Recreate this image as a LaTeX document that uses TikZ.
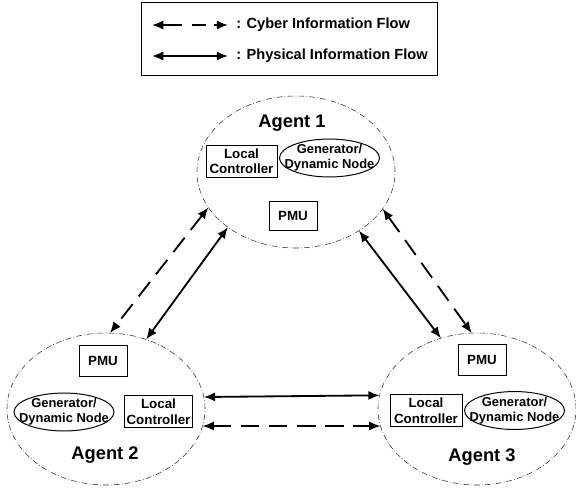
\documentclass[tikz,border=0pt]{standalone}
\usepackage{fontspec}
\setmainfont{Liberation Sans}
\usetikzlibrary{shapes.geometric, arrows.meta}
\tikzstyle{agent} = [ellipse, draw=black!80, line width=0.4pt, dash pattern=on 4pt off 1.6pt on 0.5pt off 1.6pt, minimum width=4.95cm, minimum height=3.8cm, inner sep=0pt, outer sep=0pt]
\tikzstyle{agentname} = [font=\fontsize{13}{15}\selectfont\bfseries]
\tikzstyle{box} = [rectangle, draw, line width=0.7pt, align=center, inner sep=0pt, font=\fontsize{9.5}{11}\selectfont\bfseries]
\tikzstyle{gen} = [ellipse, draw, line width=0.7pt, align=center, inner xsep=-0.5cm, inner ysep=0pt, minimum width=2.5cm, minimum height=0.93cm, font=\fontsize{9.2}{10.5}\selectfont\bfseries]
\tikzstyle{legendbox} = [rectangle, draw, line width=0.7pt, minimum width=7.375cm, minimum height=1.825cm]
\tikzstyle{legendtext} = [anchor=west, inner sep=0pt, font=\fontsize{10.4}{12}\selectfont\bfseries]
\tikzstyle{physical} = [line width=1.3pt, <->, >={Latex[length=8pt,width=6.5pt]}]
\tikzstyle{cyber} = [line width=1.3pt, <->, >={Latex[length=8pt,width=6.5pt]}, dash pattern=on 13pt off 7pt]

\begin{document}
\begin{tikzpicture}[x=0.025cm, y=-0.025cm]
    \useasboundingbox (0,0) rectangle (576,487);

    % legend
    \node [legendbox] at (289.5,39) (legend) {};
    \coordinate (cyberL) at (152,25);
    \coordinate (cyberR) at (228,25);
    \coordinate (physL) at (152,56);
    \coordinate (physR) at (228,56);
    \draw [cyber, dash pattern=on 14pt off 7pt on 10pt off 6pt on 20pt] (cyberL) -- (cyberR);
    \draw [physical] (physL) -- (physR);
    \node [legendtext] at (236,25) (cybertext) {: Cyber Information Flow};
    \node [legendtext] at (236,56) (phystext) {: Physical Information Flow};

    % agents
    \node [agent] at (296,172) (agent1) {};
    \node [agent] at (106,409) (agent2) {};
    \node [agent] at (477,409) (agent3) {};

    \node [agentname] at (292,123) (name1) {Agent 1};
    \node [box, minimum width=1.775cm, minimum height=0.8cm] at (241.5,161) (lc1) {Local\\Controller};
    \node [gen] at (329.5,158) (gen1) {Generator/\\Dynamic Node};
    \node [box, minimum width=1.2cm, minimum height=0.72cm] at (293,216) (pmu1) {PMU};

    \node [agentname] at (105,455) (name2) {Agent 2};
    \node [box, minimum width=1.2cm, minimum height=0.78cm] at (103,361) (pmu2) {PMU};
    \node [gen] at (64,412) (gen2) {Generator/\\Dynamic Node};
    \node [box, minimum width=1.7cm, minimum height=0.82cm] at (158.5,411.5) (lc2) {Local\\Controller};

    \node [agentname] at (482,457) (name3) {Agent 3};
    \node [box, minimum width=1.2cm, minimum height=0.76cm] at (482,360) (pmu3) {PMU};
    \node [box, minimum width=1.8cm, minimum height=0.82cm] at (426,410.5) (lc3) {Local\\Controller};
    \node [gen] at (514.5,410.5) (gen3) {Generator/\\Dynamic Node};

    % links between the agents
    \draw [cyber] (agent1.202) -- (agent2.87);
    \draw [physical] (agent1.219) -- (agent2.60);
    \draw [physical] (agent1.317) -- (agent3.117);
    \draw [cyber] (agent1.337) -- (agent3.94.5);
    \draw [physical] (agent2.7.5) -- (agent3.172);
    \draw [cyber] (agent2.350) -- (agent3.190);
\end{tikzpicture}
\end{document}
